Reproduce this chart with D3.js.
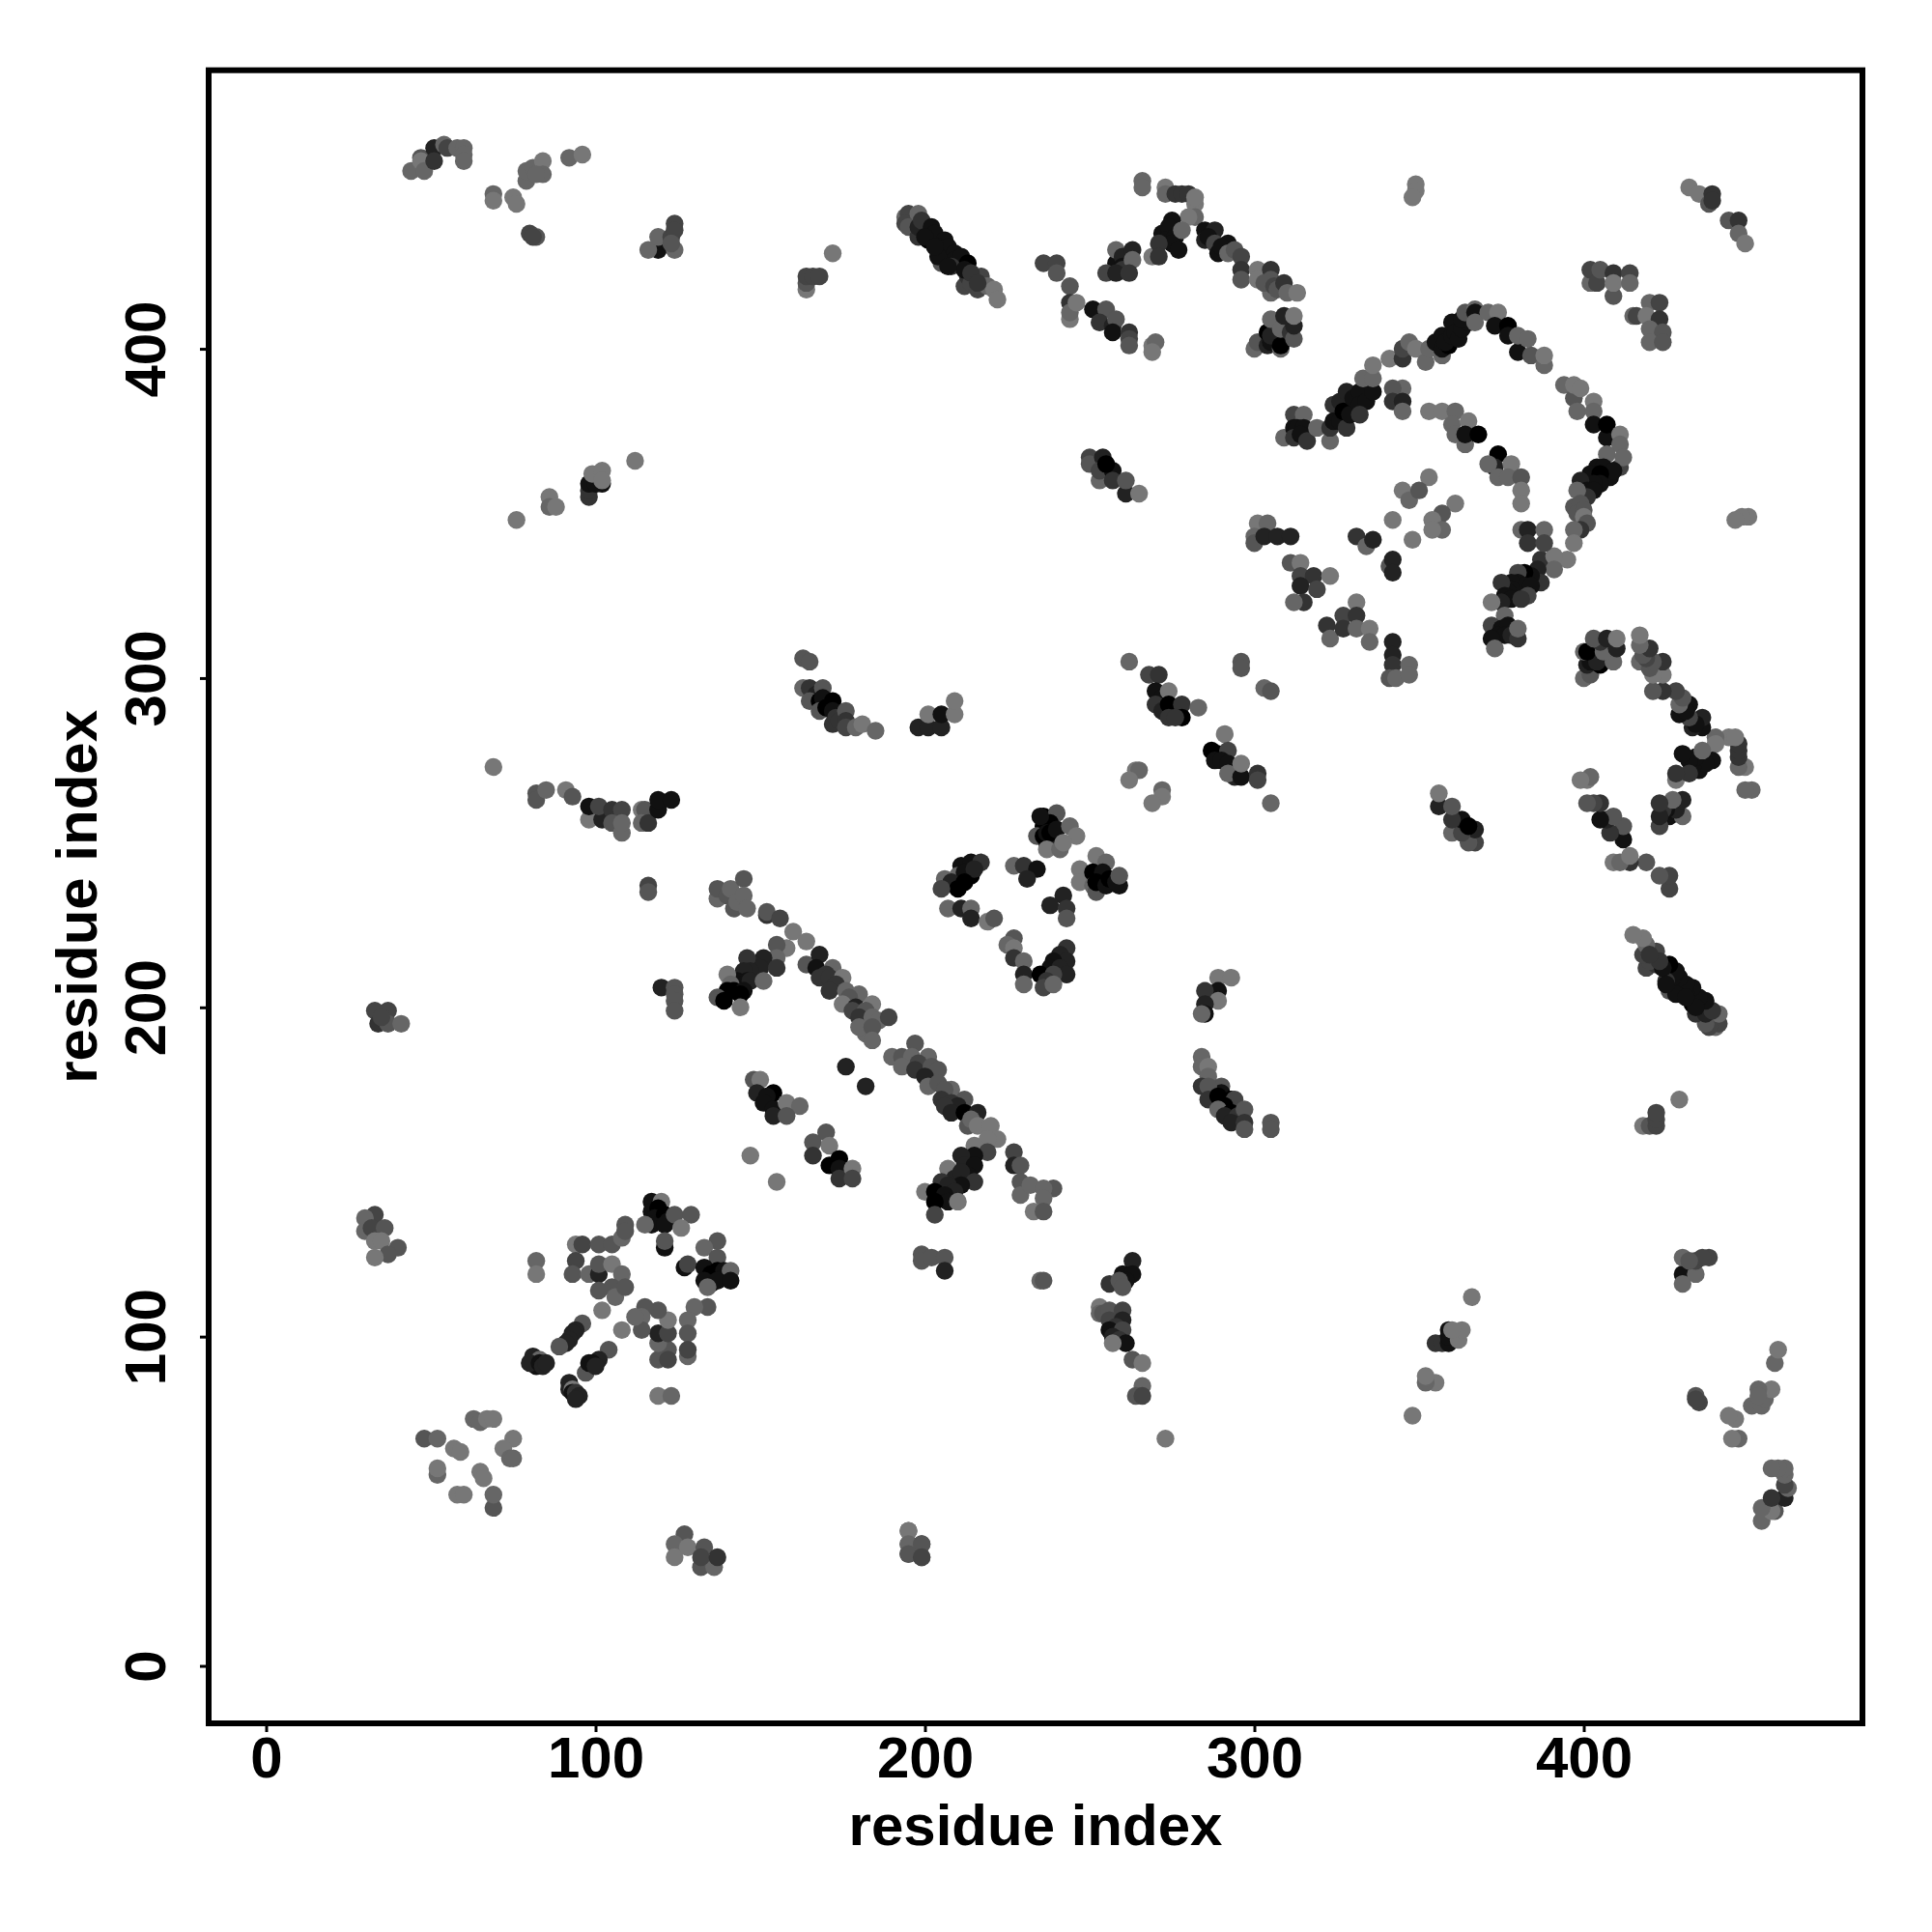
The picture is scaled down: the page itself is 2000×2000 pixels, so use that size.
<!DOCTYPE html>
<html><head><meta charset="utf-8">
<script src="https://cdn.jsdelivr.net/npm/d3@7"></script>
<style>html,body{margin:0;background:#fff}svg{display:block}</style>
</head><body><script>
const xTicks=[0,100,200,300,400], yTicks=[0,100,200,300,400];
const xLabel="residue index", yLabel="residue index";
// each contact: [residue i, residue j, grey step 0 (black) .. 7 (lightest)]
// contacts read on one side of the diagonal only; their twins (j,i) are drawn too
const farContacts=[
[44,454,6],[47,458,5],[47,457,7],[48,454,6],[51,461,2],[51,457,3],[54,462,6],[55,461,4],[58,461,6],[60,461,6],[60,459,6],[60,457,6],
[69,447,6],[69,445,7],[75,446,7],[76,444,7],[79,451,6],[79,454,6],[81,455,6],[84,457,7],[84,453,6],[82,453,6],[92,458,6],[96,459,7],[80,435,4],[82,434,5],[81,434,4],
[119,430,1],[116,430,6],[119,434,6],[124,430,6],[123,434,4],[124,438,4],[124,436,4],[123,432,5],
[76,348,7],[86,355,7],[86,352,6],[88,352,7],[112,366,7],[98,355,3],[98,357,3],[98,359,1],[102,359,1],[100,359,1],[99,362,7],[102,363,7],[102,360,7],
[33,199,4],[37,199,4],[34,195,3],[37,195,5],[41,195,6],[35,197,4],
[164,418,7],[164,420,5],[164,422,4],[166,422,4],[168,422,4],[172,429,7],
[194,440,6],[195,441,4],[194,438,4],[198,441,6],[195,437,5],[198,434,3],[198,437,2],[199,439,3],[202,437,1],[201,433,0],[203,435,1],[206,433,1],[204,431,1],[205,426,5],[205,429,1],[207,431,1],[209,429,1],[209,427,1],[211,428,1],[213,426,0],[208,425,3],[212,419,4],[213,422,3],[214,420,4],[217,422,4],[216,418,4],[219,419,6],[221,418,7],[222,415,7],
[236,426,4],[240,426,4],[240,423,5],[244,419,5],[244,414,3],[244,409,7],[244,411,6],[246,414,7],[251,412,1],[255,412,5],[253,408,3],[257,407,2],[258,409,5],[257,405,1],[262,405,3],[262,403,4],[262,401,5],[269,401,7],[270,402,6],[269,399,7],
[266,451,6],[266,449,6],[273,449,7],[273,447,6],[276,447,3],[278,447,3],[280,447,3],[282,444,7],[282,446,7],[282,440,6],[280,440,7],[275,439,1],[272,435,1],[274,437,1],[273,433,1],[276,434,1],[275,432,1],[277,430,1],[278,436,6],[269,428,7],[271,432,3],[271,428,3],
[258,426,1],[258,430,6],[260,428,2],[260,425,1],[260,424,3],[263,430,2],[263,427,6],[255,423,4],[258,423,2],[262,423,3],
[285,436,1],[288,436,2],[285,433,2],[286,434,1],[288,432,4],[289,429,1],[292,432,1],[290,431,1],[292,429,6],[294,430,5],[296,428,4],[296,424,3],[296,421,5],[301,424,7],[301,421,7],[305,417,6],[305,424,3],[303,420,5],[305,421,5],[306,419,4],[307,418,5],[309,420,3],[310,417,6],[313,417,7],
[300,400,6],[301,402,5],[304,401,2],[305,402,1],[304,405,0],[305,404,2],[305,409,6],[308,400,6],[308,401,0],[309,407,3],[308,406,6],[311,405,3],[312,403,5],[312,407,2],[309,410,2],[312,410,7],
[250,367,4],[250,365,5],[254,367,2],[253,360,6],[253,363,4],[257,363,1],[257,360,3],[255,365,0],[261,356,2],[261,360,5],[265,356,7],
[349,450,7],[349,448,7],[348,446,7],
[212,424,1],[214,423,3],[216,420,3],[204,428,1],[207,425,1],[200,434,1],[203,431,1]
];
// contacts read on both sides of the diagonal
const upperContacts=[
[432,449,7],[435,447,7],[438,444,5],[439,447,3],[439,445,3],[444,439,5],[447,439,3],[447,435,6],[449,432,7],
[402,420,6],[402,424,4],[404,420,4],[405,424,5],[409,423,3],[409,416,5],[409,420,7],[414,423,4],[414,420,6],
[420,414,6],[423,414,4],[415,410,6],[416,410,4],[419,410,7],[423,409,3],[420,406,6],[424,405,5],[420,402,6],[424,402,5],
[309,373,6],[312,380,4],[315,380,6],[312,376,1],[313,376,1],[315,376,1],[312,373,3],[314,374,1],[316,372,3],[319,376,6],[323,372,6],[323,376,3],[324,383,3],[324,378,1],[326,378,1],[326,384,2],[328,376,3],[327,381,0],[329,380,1],[328,387,2],[330,385,1],[332,387,1],[332,383,1],[334,384,1],[332,380,3],[336,387,1],[333,391,6],[336,391,6],[336,395,7],
[341,397,7],[345,397,3],[345,400,4],[347,402,6],[349,400,7],[352,396,6],[353,400,6],[357,398,6],[355,402,1],[357,400,1],[359,401,0],[357,404,1],[358,402,1],[360,404,1],[360,408,1],[361,405,1],[362,403,1],[363,406,1],[365,408,1],[363,409,1],[364,411,5],[367,412,6],[367,411,1],[367,408,6],[371,411,6],[374,411,7],[373,407,1],[377,407,0],[377,404,1],[380,399,1],[380,404,6],[383,403,6],[384,398,5],[388,395,6],[388,398,7],
[394,389,6],[397,385,5],[397,389,7],[399,388,7],[398,381,6],[403,384,7],[403,381,6],[403,377,1],[407,373,1],[407,377,0],[411,374,7],[411,371,6],[407,368,6],[411,364,4],[412,367,6],[404,364,1],[406,364,1],[408,361,1],[409,363,1],[401,360,1],[402,362,1],[405,362,0],[405,359,1],[403,359,1],[399,360,2],[401,357,1],[403,357,1],[401,355,3],[398,357,6],[397,352,5],[399,353,5],[398,350,5],[400,351,5],[400,349,7],[401,347,5],[399,345,3],[397,345,6],[397,341,7],
[395,336,7],[387,336,3],[391,337,7],[391,333,6],[386,333,2],[387,329,3],[384,331,1],[382,332,0],[380,332,4],[380,329,1],[382,328,1],[384,328,1],[383,325,4],[378,329,1],[378,327,1],[377,326,1],[375,329,3],[376,325,1],[378,324,1],[381,324,3],[375,323,2],[372,323,7],[376,319,6],
[372,316,4],[375,315,1],[377,316,1],[374,313,1],[376,313,1],[378,313,2],[380,312,3],[380,315,6],[372,312,1],[373,309,6],
[345,388,6],[342,388,5],[342,384,3],[345,384,2],[345,381,6],
[353,381,7],[357,381,7],[361,381,6],[360,377,6],[361,374,6],[365,378,7],[364,371,6],[364,374,1],[368,374,0],[374,368,0],[373,364,2],[371,365,6],[378,365,7],[374,361,6],[377,361,6],[381,361,5],[381,357,7],[381,353,7],
[353,361,7],[345,357,7],[347,354,6],[350,357,5],[342,348,7],[361,353,7],[357,350,5],[354,348,7],[357,345,6],[354,345,7],[348,342,7],
[331,343,3],[334,340,6],[336,342,2],[341,334,5],[342,336,2],[342,332,2],
[381,345,6],[383,345,2],[388,345,6],[383,341,3],[388,341,4],
[301,347,7],[304,347,6],[300,343,6],[300,341,5],[303,343,2],[307,343,2],[311,343,2],
[311,335,5],[314,335,7],[314,331,4],[318,331,3],[323,331,7],[314,328,2],[319,327,4],[315,323,3],[312,323,6],
[322,316,3],[323,312,6],[327,319,4],[331,323,7],[331,319,3],[327,315,3],[331,315,6],[335,315,7],[335,311,6],
[342,311,2],[342,307,2],[342,304,3],[347,304,6],[341,300,5],[343,300,6],[347,301,6]
];
const centerContacts=[
[163,306,5],[165,305,5],[163,297,6],[165,297,3],[167,295,2],[169,297,5],[165,293,5],[168,293,0],[169,294,1],[168,290,5],[170,291,0],[172,293,0],[172,290,1],[172,286,3],[173,288,3],[174,287,3],[176,290,5],[176,287,3],[176,285,4],[179,285,6],[181,286,7],[185,284,6],
[198,285,2],[201,285,2],[205,285,2],[201,289,7],[205,289,1],[209,289,7],[209,293,7],
[69,273,7],[82,265,5],[82,263,5],[85,266,6],[91,266,7],[93,264,5],[98,257,7],[98,261,1],[102,257,2],[101,261,4],[105,260,3],[108,260,4],[105,256,5],[108,253,6],[108,256,6],[114,260,7],[115,260,5],[114,256,6],[116,256,3],[119,260,1],[119,263,1],[123,263,1],
[116,237,4],[116,235,5],
[137,233,6],[137,236,5],[140,234,5],[141,236,6],[145,239,5],[142,230,5],[143,232,6],[145,234,6],[146,230,6],[152,228,3],[152,229,5],[156,227,4],
[160,223,7],[164,220,7],[158,218,7],[155,219,5],[153,214,3],[155,215,6],[151,215,2],[148,213,2],[150,212,2],[155,212,3],[146,215,3],[147,211,2],[145,211,2],[143,208,1],[140,210,7],[146,208,1],[147,208,2],[151,208,6],[141,207,6],[140,205,0],[142,205,0],[145,205,1],[144,204,0],[137,203,5],[139,202,0],[144,200,7],
[120,206,2],[124,206,5],[124,204,5],[124,202,5],[124,199,5],
[164,213,5],[168,216,2],[167,212,1],[172,212,6],[170,210,3],[168,209,3],[171,209,3],[175,209,7],[173,207,3],[171,205,3],[176,205,6],[180,204,6],[177,203,5],[175,201,7],[179,200,2],[178,199,4],[184,201,7],[182,199,5],[180,197,3],[184,197,6],[186,196,6],[189,197,4],[182,192,6],[180,194,6],[184,194,5],[184,190,6],
[190,185,6],[193,185,5],[197,189,5],[196,185,6],[201,185,6],[193,182,6],[198,183,4],[197,181,3],[202,182,5],[204,181,5],[200,179,2],[201,176,6],[204,177,5],[208,175,6],[206,175,5],[205,172,3],[212,172,5],[208,171,3],[210,170,2],[206,170,3],[208,168,2],[212,168,0],[216,168,2],[213,164,5],[214,166,6],[216,164,7],[220,164,7],[222,160,7],
[176,182,2],[182,176,2],
[148,178,5],[150,178,7],[149,174,2],[154,174,0],[152,173,1],[151,171,1],[154,169,1],[158,171,7],[162,170,6],[154,167,2],[158,167,5],[147,155,7],[155,147,7],
[211,243,1],[214,244,1],[217,244,3],[210,240,6],[214,240,0],[212,241,1],[215,242,2],[206,239,6],[208,238,2],[212,238,0],[210,236,0],[205,236,4],[207,230,6],[211,230,2],[214,230,6],[214,227,2],[219,226,7],[221,227,5],
[262,305,6],[268,301,4],[271,301,3],[270,296,1],[272,294,1],[274,296,7],[270,292,3],[272,290,2],[274,292,0],[276,290,0],[278,292,3],[278,288,0],[274,288,3],[276,288,3],[283,291,6],
[296,305,5],[296,303,5],[303,297,6],[305,296,5],
[291,283,7],[287,278,0],[289,277,0],[292,278,4],[288,275,1],[290,275,1],[292,274,1],[294,270,2],[292,271,6],[296,270,1],[296,274,7],[301,271,3],[301,269,4],[305,262,6],
[264,272,7],[265,272,6],[262,269,7],[272,266,6],[272,264,7],[269,262,7],
[236,258,0],[240,259,5],[238,256,0],[236,255,0],[235,258,1],[234,252,5],[237,250,2],[238,250,2],[236,252,0],[237,253,1],[238,253,0],[240,254,1],[244,255,6],[246,252,7],[237,248,7],[241,248,6],[242,250,7],
[227,243,6],[230,243,3],[234,242,1],[231,239,2],[252,246,7],[255,244,6],[247,242,7],[247,238,7],[251,241,0],[253,240,0],[254,241,1],[251,237,6],[252,235,5],[252,238,0],[255,237,1],[256,239,0],[259,237,1],[258,238,1],[259,240,5],
[242,234,2],[238,231,2],[243,230,3],[243,227,5],
[227,221,5],[225,219,6],[227,218,7],[227,215,3],[230,214,6],[230,210,2],[230,207,6],
[243,218,3],[241,216,2],[243,214,2],[239,214,1],[238,212,1],[241,212,2],[243,210,2],[235,210,0],[239,210,4],[237,208,3],[236,206,4],[239,207,6],
[289,209,7],[293,209,7],[289,205,1],[285,205,3],[289,202,7],[285,201,2],[285,198,1],[284,198,6],
[284,185,6],[284,182,6],[286,182,7],[286,179,6],[284,176,3],[290,176,5],[290,174,1],[286,176,5],[286,172,3],[289,173,0],[293,172,0],[294,172,4],[291,170,0],[289,169,6],[293,168,0],[291,167,2],[295,167,3],[297,169,5],[293,165,2],[297,165,3],[297,163,5],[305,165,5],[305,163,5],
[170,162,5],[166,159,5],[166,155,3],[171,158,7],[174,154,0],[171,152,0],[174,151,1],[174,148,3],[178,151,7],[178,148,4],
[219,160,7],[215,158,7],[219,156,4],[215,155,1],[211,155,2],[212,152,2],[215,152,1],[207,151,7],[209,148,2],[213,149,1],[211,150,2],[215,147,3],[205,147,3],[211,146,1],[207,146,2],[209,144,2],[200,144,7],[203,144,0],[206,143,1],[207,141,1],[203,141,0],[210,141,7],[203,137,4],
[227,156,4],[227,152,2],[229,152,5],[229,147,5],[229,143,6],[232,146,6],[239,145,5],[236,145,6],[236,142,6],[233,138,7],[236,138,5],
[199,125,5],[199,123,5],[202,124,5],[206,124,5],[206,120,2],[235,117,6],[236,117,5],
[263,123,2],[260,119,1],[263,119,1],[261,117,1],[256,116,3],[259,117,5],[260,115,5],[253,109,7],[253,107,6],[254,107,5],[256,108,5],[260,108,4],[256,105,4],[260,105,2],[258,103,3],[256,102,1],[260,102,4],[257,100,2],[259,99,3],[261,98,1],[257,98,7],[263,93,5],[266,92,7],[266,85,6],[264,82,5],[266,82,4],[273,69,7],
[195,41,7],[195,37,6],[199,37,5],[195,34,5],[199,33,4]
];
const lowerContacts=[
[33,137,4],[30,136,6],[30,132,6],[32,133,4],[36,133,5],[33,129,7],[35,129,7],[40,127,5],[37,125,5],[33,124,7],
[82,123,6],[82,119,7],
[94,128,7],[96,128,4],[101,128,5],[105,128,5],[108,130,6],[109,134,5],[109,132,5],
[94,123,4],[93,119,5],[98,119,6],[101,119,2],[101,122,5],[105,122,7],[108,119,6],[101,114,5],[105,115,5],[106,112,6],[109,115,5],[102,108,7],
[117,141,1],[120,141,7],[117,138,1],[119,139,0],[118,136,1],[121,137,0],[122,135,1],[117,134,1],[121,134,1],[115,134,6],[124,137,5],[129,137,5],[126,133,7],[121,127,1],[121,129,5],
[137,129,5],[133,127,6],[137,124,5],[127,121,1],[128,122,4],[133,121,1],[137,120,0],[135,119,0],[139,120,1],[139,118,1],[135,116,1],[141,120,6],[133,117,1],[137,117,1],[141,117,1],[134,115,6],
[134,109,5],[130,109,6],[128,105,6],[128,101,5],[128,94,6],[128,96,4],[122,96,5],[119,93,5],[122,93,4],[119,98,6],[119,101,2],[122,101,4],[122,105,7],[119,108,5],[115,109,5],[114,106,6],[114,102,5],[112,106,6],
[119,82,7],[123,82,6],[108,102,7],
[96,104,5],[94,102,2],[93,101,2],[92,99,2],[91,98,2],[89,97,5],[104,96,5],[97,89,5],[101,93,2],[99,92,1],[98,92,1],[100,91,2],
[81,94,2],[83,93,6],[82,91,1],[80,92,2],[83,92,1],[84,91,2],[85,92,2],[92,86,2],[92,84,2],[93,84,7],[93,83,1],[94,83,3],[95,82,2],[94,81,2],
[48,69,5],[52,69,6],[57,66,7],[59,65,7],[52,58,6],[52,60,7],[65,59,7],[66,57,7],[58,52,7],[60,52,7],[69,48,5],[69,52,6],
[63,75,6],[65,74,6],[67,75,7],[69,75,7],[75,69,7],[72,66,7],[74,63,6],[75,63,6],
[127,40,5],[124,37,6],[124,33,7],[128,36,7],[132,30,5],[136,30,6],[133,36,5],[132,33,4],[137,33,3]
];

const width=2000,height=2000;
const x=d3.scaleLinear().domain([-17.45,484.6]).range([216,1928]);
const y=d3.scaleLinear().domain([-17.45,484.6]).range([1784,72.7]);
const grey=d3.scaleLinear().domain([0,7]).range([0,119]);
const svg=d3.select("body").append("svg").attr("width",width).attr("height",height);
const font="'Liberation Sans',Arial,sans-serif";
const toPoint=d=>({i:d[0],j:d[1],s:d[2]});
const points=[
 ...farContacts.map(toPoint),
 ...farContacts.map(d=>({i:d[1],j:d[0],s:d[2]})),
 ...upperContacts.map(toPoint),
 ...centerContacts.map(toPoint),
 ...lowerContacts.map(toPoint)
];
svg.append("g").selectAll("circle").data(points).join("circle")
 .attr("cx",d=>x(d.i)).attr("cy",d=>y(d.j)).attr("r",9.2)
 .attr("fill",d=>{const g=Math.round(grey(d.s));return `rgb(${g},${g},${g})`;});

svg.append("rect").attr("x",x.range()[0]).attr("y",y.range()[1])
 .attr("width",x.range()[1]-x.range()[0]).attr("height",y.range()[0]-y.range()[1])
 .attr("fill","none").attr("stroke","#000").attr("stroke-width",6);

const ax=svg.append("g").attr("transform",`translate(0,${y.range()[0]})`)
 .call(d3.axisBottom(x).tickValues(xTicks).tickSizeOuter(0).tickSize(9));
const ay=svg.append("g").attr("transform",`translate(${x.range()[0]},0)`)
 .call(d3.axisLeft(y).tickValues(yTicks).tickSizeOuter(0).tickSize(9));
[ax,ay].forEach(g=>{g.select(".domain").remove();
 g.selectAll("line").attr("stroke","#000").attr("stroke-width",3);
 g.selectAll("text").attr("fill","#000").attr("font-family",font).attr("font-weight","bold").attr("font-size",60);});
ax.selectAll("text").attr("y",56).attr("dy",0);
ay.selectAll("text").attr("x",0).attr("dy",0).attr("text-anchor","middle").attr("transform","translate(-45.3,0) rotate(-90)");

svg.append("text").attr("x",(x.range()[0]+x.range()[1])/2).attr("y",1910).attr("text-anchor","middle")
 .attr("font-family",font).attr("font-weight","bold").attr("font-size",60).text(xLabel);
svg.append("text").attr("transform",`translate(99.5,${(y.range()[0]+y.range()[1])/2}) rotate(-90)`).attr("text-anchor","middle")
 .attr("font-family",font).attr("font-weight","bold").attr("font-size",60).text(yLabel);
</script></body></html>
